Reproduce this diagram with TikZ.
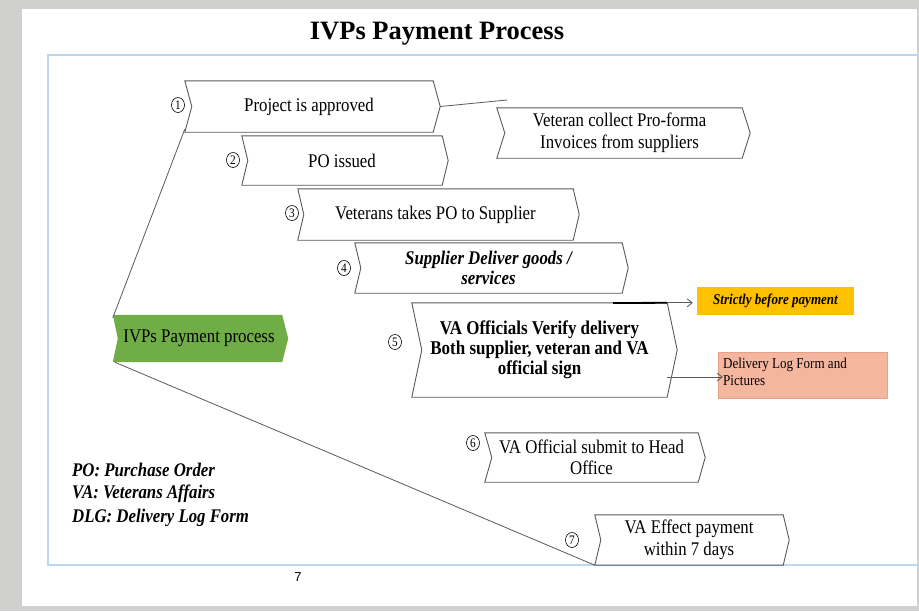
\documentclass[tikz,border=0pt]{standalone}
\usepackage{fontspec}
\setmainfont{Liberation Serif}[FakeStretch=0.87]
\newfontfamily\titlefont{Liberation Serif}
\newfontfamily\pagefont{Liberation Sans}
\usetikzlibrary{arrows.meta,calc,shapes.geometric}
\definecolor{bggray}{RGB}{208,208,206}
\definecolor{framebl}{RGB}{189,215,238}
\definecolor{chevline}{RGB}{90,90,90}
\definecolor{greenbox}{RGB}{112,173,71}
\definecolor{orangebox}{RGB}{255,192,0}
\definecolor{salmonbox}{RGB}{245,182,160}
\definecolor{salmonline}{RGB}{232,160,136}
\tikzset{
  txt/.style={inner sep=0pt, align=center, font=\fontsize{19.3}{21.5}\selectfont},
  num/.style={ellipse, draw=black, line width=0.6pt, inner sep=0pt, minimum width=13pt, minimum height=15pt, font=\fontsize{13}{13}\selectfont},
  chevpath/.style={draw=chevline, line width=0.9pt, line join=miter},
  conn/.style={draw=chevline, line width=0.8pt},
  arr/.style={draw=chevline, line width=0.8pt, -{Straight Barb[length=5pt,width=8pt]}},
  legend/.style={anchor=west, inner sep=0pt, font=\fontsize{19.3}{19.3}\selectfont\bfseries\itshape}
}
\newcommand{\drawchev}[2]{%
  \draw[chevpath] (#1.north west) -- (#1.north east) -- ([xshift=#2]#1.east) -- (#1.south east) -- (#1.south west) -- ([xshift=#2]#1.west) -- cycle;}
\begin{document}
\begin{tikzpicture}[x=1pt,y=-1pt]
\useasboundingbox (0,0) rectangle (919,611);
% background slide
\fill[bggray] (0,0) rectangle (919,611);
\fill[white] (22,9) rectangle (917,606);
\draw[framebl, line width=1.8pt] (919,55) -- (48,55) -- (48,565) -- (919,565);
% title
\node[inner sep=0pt, font=\titlefont\fontsize{26.5}{26.5}\selectfont\bfseries] (title) at (437,34) {IVPs Payment Process};
% chevron boxes
\node[txt, minimum width=248pt, minimum height=51pt] (b1) at (309,106.5) {Project is approved};
\drawchev{b1}{7pt}
\node[txt, minimum width=245pt, minimum height=50pt] (bv) at (619.5,133) {Veteran collect Pro-forma\\Invoices from suppliers};
\drawchev{bv}{8pt}
\node[txt, minimum width=200pt, minimum height=49pt] (b2) at (342,160.5) {PO issued};
\drawchev{b2}{6pt}
\node[txt, minimum width=275pt, minimum height=51pt] (b3) at (435.5,214.5) {Veterans takes PO to Supplier};
\drawchev{b3}{6pt}
\node[txt, minimum width=267pt, minimum height=50pt, font=\fontsize{19.3}{19.5}\selectfont\bfseries\itshape] (b4) at (488.5,268) {Supplier Deliver goods /\\services};
\drawchev{b4}{6pt}
\node[txt, minimum width=255pt, minimum height=94pt, font=\fontsize{19.5}{19.8}\selectfont\bfseries] (b5) at (539.5,350) {VA Officials Verify delivery\\Both supplier, veteran and VA\\official sign};
\drawchev{b5}{10pt}
\node[txt, minimum width=213pt, minimum height=49pt] (b6) at (591.5,457.5) {VA Official submit to Head\\Office};
\drawchev{b6}{7pt}
\node[txt, minimum width=188pt, minimum height=50pt] (b7) at (689,540) {VA Effect payment\\within 7 days};
\drawchev{b7}{6pt}
% green main box
\node[txt, minimum width=169pt, minimum height=47pt] (g) at (197.5,338.5) {};
\fill[greenbox] (g.north west) -- (g.north east) -- ([xshift=6pt]g.east) -- (g.south east) -- (g.south west) -- ([xshift=5pt]g.west) -- cycle;
\node[inner sep=0pt, font=\fontsize{19.3}{21}\selectfont] (gt) at (199,338.5) {IVPs Payment process};
% circled numbers
\node[num] (c1) at (178,105) {1};
\node[num] (c2) at (233,160) {2};
\node[num] (c3) at (292,213) {3};
\node[num] (c4) at (344,268) {4};
\node[num] (c5) at (395,342) {5};
\node[num] (c6) at (473,443) {6};
\node[num] (c7) at (572,540) {7};
% side boxes
\node[fill=orangebox, minimum width=157pt, minimum height=28pt, inner sep=0pt, font=\fontsize{15}{15}\selectfont\bfseries\itshape] (strict) at (775.5,301) {Strictly before payment};
\node[fill=salmonbox, draw=salmonline, line width=0.6pt, minimum width=169pt, minimum height=46pt, inner sep=0pt] (dlf) at (802.5,375) {};
\node[anchor=north west, inner sep=0pt, align=left, font=\fontsize{15}{16.5}\selectfont] (dlft) at (723,358) {Delivery Log Form and\\Pictures};
% connectors
\coordinate (e1) at (507,100);
\draw[conn] ([xshift=7pt]b1.east) -- (e1);
\draw[conn] ([yshift=-3pt]g.north west) -- ([yshift=3pt]b1.south west);
\draw[conn] ([xshift=2pt]g.south west) -- (b7.south west);
\coordinate (s5) at (613,303);
\draw[draw=black, line width=1.8pt] (s5) -- (b5.north east);
\draw[arr, shorten >=4pt] (b5.north east) -- (strict.west |- b5.north east);
\coordinate (d5) at (667,377);
\draw[arr, shorten >=-5pt] (d5) -- (dlf.west |- d5);
% legend
\node[legend] (l1) at (72,470) {PO: Purchase Order};
\node[legend] (l2) at (72,494) {VA: Veterans Affairs};
\node[legend] (l3) at (72,518) {DLG: Delivery Log Form};
% page number
\node[inner sep=0pt, font=\pagefont\fontsize{13}{13}\selectfont] (pg) at (298,577) {7};
\end{tikzpicture}
\end{document}
